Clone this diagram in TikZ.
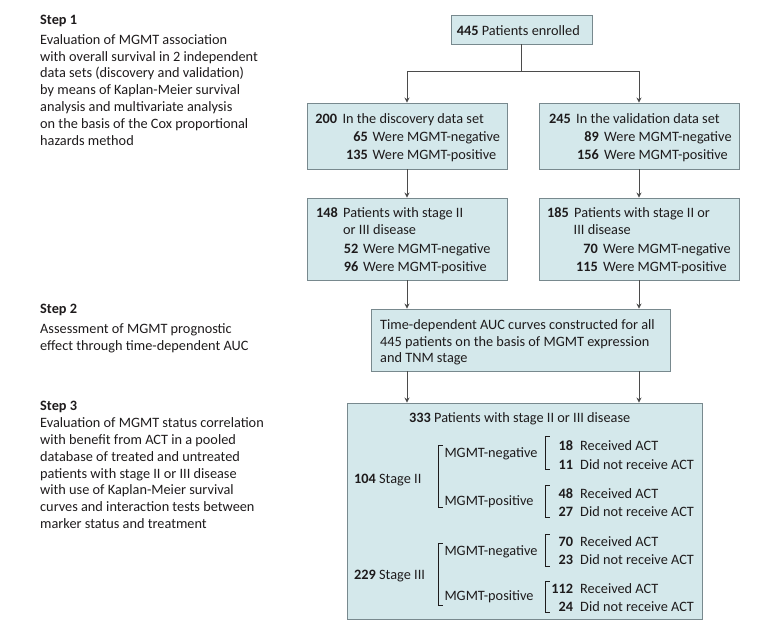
\documentclass[tikz,border=0pt]{standalone}
\usepackage{fontspec}
\setmainfont{Carlito}
\usetikzlibrary{arrows.meta}
\definecolor{boxfill}{RGB}{212,232,235}
\definecolor{boxline}{RGB}{120,137,142}
\definecolor{ink}{RGB}{30,27,28}
\definecolor{conn}{RGB}{75,75,75}
\newcommand\myfs{\fontsize{14.3}{16.8}\selectfont}
\begin{document}
\begin{tikzpicture}[x=1pt,y=-1pt,
  box/.style={draw=boxline,fill=boxfill,line width=0.9pt,inner sep=0pt,rectangle},
  tx/.style={inner sep=0pt,text=ink,anchor=base west,font=\myfs},
  nb/.style={inner sep=0pt,text=ink,anchor=base east,font=\myfs\bfseries},
  arr/.style={draw=conn,line width=0.8pt,-{Stealth[length=5pt,width=5pt]}},
  brk/.style={draw=ink,line width=0.6pt}]
\useasboundingbox (0,0) rectangle (783,635);

% left step descriptions
\node[tx,font=\myfs\bfseries] (s1h) at (40,24.3) {Step 1};
\node[tx] (s1b) at (40,44.3) {\begin{tabular}[t]{@{}l@{}}Evaluation of MGMT association\\ with overall survival in 2 independent\\ data sets (discovery and validation)\\ by means of Kaplan-Meier survival\\ analysis and multivariate analysis\\ on the basis of the Cox proportional\\ hazards method\end{tabular}};
\node[tx,font=\myfs\bfseries] (s2h) at (40,313.3) {Step 2};
\node[tx] (s2b) at (40,333.3) {\begin{tabular}[t]{@{}l@{}}Assessment of MGMT prognostic\\ effect through time-dependent AUC\end{tabular}};
\node[tx,font=\myfs\bfseries] (s3h) at (40,410) {Step 3};
\node[tx] (s3b) at (40,427.7) {\begin{tabular}[t]{@{}l@{}}Evaluation of MGMT status correlation\\ with benefit from ACT in a pooled\\ database of treated and untreated\\ patients with stage II or III disease\\ with use of Kaplan-Meier survival\\ curves and interaction tests between\\ marker status and treatment\end{tabular}};

% boxes
\node[box,minimum width=141pt,minimum height=29pt] (top) at (521.5,29.5) {};
\node[box,minimum width=200pt,minimum height=66pt] (disc) at (407,136) {};
\node[box,minimum width=200pt,minimum height=66pt] (valid) at (639,136) {};
\node[box,minimum width=200pt,minimum height=82pt] (st2L) at (407,239) {};
\node[box,minimum width=200pt,minimum height=82pt] (st2R) at (639,239) {};
\node[box,minimum width=299pt,minimum height=62pt] (auc) at (520.5,340) {};
\node[box,minimum width=355pt,minimum height=216pt] (big) at (524.5,511) {};

% connectors
\draw[arr] (top.south) -- ++(0,27) -| (disc.north);
\draw[arr] (top.south) -- ++(0,27) -| (valid.north);
\draw[arr] (disc) -- (st2L);
\draw[arr] (valid) -- (st2R);
\draw[arr] (st2L.south) -- (st2L.south |- auc.north);
\draw[arr] (st2R.south) -- (st2R.south |- auc.north);
\draw[arr] (auc.south -| st2L.south) -- (st2L.south |- big.north);
\draw[arr] (auc.south -| st2R.south) -- (st2R.south |- big.north);

% top box text
\node[tx] (t1) at (456.7,35) {\textbf{445} Patients enrolled};

% discovery
\node[nb] (d1n) at (337.3,123.3) {200};
\node[tx] (d1t) at (342.3,123.3) {In the discovery data set};
\node[nb] (d2n) at (368,141.2) {65};
\node[tx] (d2t) at (372.5,141.2) {Were MGMT-negative};
\node[nb] (d3n) at (368,159.3) {135};
\node[tx] (d3t) at (372.5,159.3) {Were MGMT-positive};

% validation
\node[nb] (v1n) at (571,123.3) {245};
\node[tx] (v1t) at (576,123.3) {In the validation data set};
\node[nb] (v2n) at (599,141.2) {89};
\node[tx] (v2t) at (604,141.2) {Were MGMT-negative};
\node[nb] (v3n) at (599,159.3) {156};
\node[tx] (v3t) at (604,159.3) {Were MGMT-positive};

% stage II/III left
\node[nb] (a1n) at (338,217.3) {148};
\node[tx] (a1t) at (343,217.3) {Patients with stage II};
\node[tx] (a2t) at (343,234.5) {or III disease};
\node[nb] (a3n) at (358.5,253.3) {52};
\node[tx] (a3t) at (363,253.3) {Were MGMT-negative};
\node[nb] (a4n) at (358.5,271) {96};
\node[tx] (a4t) at (363,271) {Were MGMT-positive};

% stage II/III right
\node[nb] (b1n) at (569,217.3) {185};
\node[tx] (b1t) at (574,217.3) {Patients with stage II or};
\node[tx] (b2t) at (573.5,234.5) {III disease};
\node[nb] (b3n) at (598,253.3) {70};
\node[tx] (b3t) at (603,253.3) {Were MGMT-negative};
\node[nb] (b4n) at (598,271) {115};
\node[tx] (b4t) at (603,271) {Were MGMT-positive};

% AUC box
\node[tx] (c1) at (380,329.3) {\begin{tabular}[t]{@{}l@{}}Time-dependent AUC curves constructed for all\\ 445 patients on the basis of MGMT expression\\ and TNM stage\end{tabular}};

% big box
\node[tx] (g0) at (409,422.3) {\textbf{333} Patients with stage II or III disease};
\node[tx] (g1) at (354,483.3) {\textbf{104} Stage II};
\node[tx] (g2) at (354,579.3) {\textbf{229} Stage III};
\node[tx] (m1) at (444.3,457.7) {MGMT-negative};
\node[tx] (m2) at (444.3,505.7) {MGMT-positive};
\node[tx] (m3) at (444.3,555) {MGMT-negative};
\node[tx] (m4) at (444.3,600.7) {MGMT-positive};

\node[nb] (r1n) at (573.3,450.7) {18};
\node[tx] (r1t) at (580,450.7) {Received ACT};
\node[nb] (r2n) at (573.3,469) {11};
\node[tx] (r2t) at (580,469) {Did not receive ACT};
\node[nb] (r3n) at (573.3,498.3) {48};
\node[tx] (r3t) at (580,498.3) {Received ACT};
\node[nb] (r4n) at (573.3,516.7) {27};
\node[tx] (r4t) at (580,516.7) {Did not receive ACT};
\node[nb] (r5n) at (573.3,546) {70};
\node[tx] (r5t) at (580,546) {Received ACT};
\node[nb] (r6n) at (573.3,564.3) {23};
\node[tx] (r6t) at (580,564.3) {Did not receive ACT};
\node[nb] (r7n) at (573.3,593.3) {112};
\node[tx] (r7t) at (580,593.3) {Received ACT};
\node[nb] (r8n) at (573.3,611) {24};
\node[tx] (r8t) at (580,611) {Did not receive ACT};

% brackets
\draw[brk] (442.5,445.5) -- (438.7,445.5) -- (438.7,507.5) -- (442.5,507.5);
\draw[brk] (442.5,543.3) -- (438.7,543.3) -- (438.7,605) -- (442.5,605);
\draw[brk] (549.5,436.7) -- (545.7,436.7) -- (545.7,469.3) -- (549.5,469.3);
\draw[brk] (549.5,485) -- (545.7,485) -- (545.7,517.7) -- (549.5,517.7);
\draw[brk] (549.5,534) -- (545.7,534) -- (545.7,566.7) -- (549.5,566.7);
\draw[brk] (549.5,581) -- (545.7,581) -- (545.7,612.7) -- (549.5,612.7);
\end{tikzpicture}
\end{document}
